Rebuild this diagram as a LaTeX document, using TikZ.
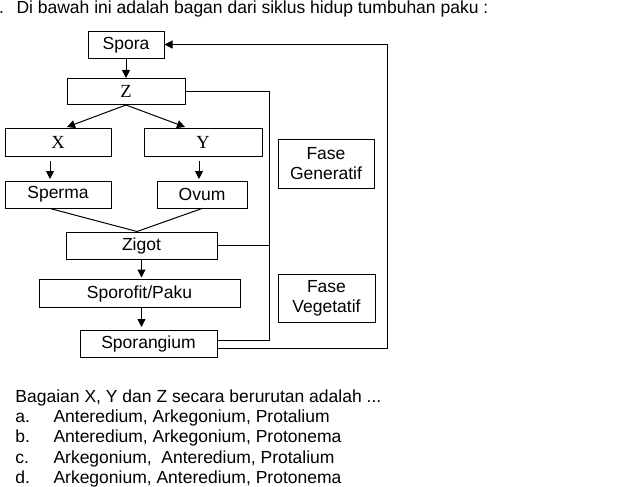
\documentclass[tikz,border=0pt]{standalone}
\usepackage{fontspec}
\setmainfont{Liberation Sans}
\newfontfamily\letterfont{Liberation Serif}
\usetikzlibrary{arrows.meta}

\begin{document}
\begin{tikzpicture}[x=1pt,y=-1pt,line width=1pt,
    box/.style={draw, inner sep=0pt, align=center, font=\fontsize{17.5}{20}\selectfont},
    lbox/.style={box, font=\fontsize{18.5}{20}\letterfont},
    txt/.style={anchor=base west, inner sep=0pt, font=\fontsize{17.5}{20}\selectfont},
    arr/.style={-{Triangle[length=8pt,width=8pt]}}]
    \useasboundingbox (0,0) rectangle (621,487);
    \node[txt] (dot) at (-1.5,14) {.};
    \node[txt] (title) at (16,14) {Di bawah ini adalah bagan dari siklus hidup tumbuhan paku :};
    % bagan
    \node[box, minimum width=76pt, minimum height=27pt] (spora) at (126,45.5) {Spora};
    \node[lbox, minimum width=118pt, minimum height=26pt] (z) at (126,91.5) {Z};
    \node[lbox, minimum width=106pt, minimum height=28pt] (xbox) at (58,142.5) {X};
    \node[lbox, minimum width=118pt, minimum height=28pt] (ybox) at (203,142.5) {Y};
    \node[box, minimum width=106pt, minimum height=27pt] (sperma) at (58,194.5) {Sperma};
    \node[box, minimum width=90pt, minimum height=27pt] (ovum) at (202,194.5) {Ovum};
    \node[box, minimum width=151pt, minimum height=27pt] (zigot) at (141.5,245.5) {Zigot};
    \node[box, minimum width=201pt, minimum height=28pt] (sporofit) at (139.5,293.5) {Sporofit/Paku};
    \node[box, minimum width=137pt, minimum height=27pt] (sporangium) at (148.5,343.5) {Sporangium};
    \node[box, minimum width=96pt, minimum height=49pt] (gen) at (326,163.5) {Fase\\Generatif};
    \node[box, minimum width=97pt, minimum height=48pt] (veg) at (326.5,298.5) {Fase\\Vegetatif};
    \draw[arr] (spora.south) -- (z.north);
    \draw[arr] (z.south) -- ([xshift=9pt,yshift=1pt]xbox.north);
    \draw[arr] (z.south) -- ([xshift=-18pt,yshift=1pt]ybox.north);
    \draw[arr] ([xshift=-8pt,yshift=-4pt]xbox.south) -- ++(0,18);
    \draw[arr] ([xshift=-4pt,yshift=-4pt]ybox.south) -- ++(0,18);
    \coordinate (meet) at ([xshift=-4.5pt]zigot.north);
    \draw ([xshift=-8pt]sperma.south) -- (meet) -- (ovum.south);
    \draw[arr] (zigot.south) -- ++(0,18);
    \draw[arr] ([xshift=2pt]sporofit.south) -- ++(0,19);
    % garis kanan
    \coordinate (gtop) at (269.5,91.5);
    \coordinate (back) at (387.5,44.5);
    \draw (z.east) -- (gtop) |- ([yshift=3pt]sporangium.east);
    \draw (zigot.east) -- (zigot.east -| gtop);
    \draw[arr] ([yshift=-5pt]sporangium.east) -| (back) -- ([yshift=1pt]spora.east);
    % soal
    \node[txt] (q) at (15,402) {Bagaian X, Y dan Z secara berurutan adalah ...};
    \foreach \l/\t [count=\i from 0] in {a./{Anteredium, Arkegonium, Protalium},
        b./{Anteredium, Arkegonium, Protonema},
        c./{Arkegonium,\ \ Anteredium, Protalium},
        d./{Arkegonium, Anteredium, Protonema}} {
      \node[txt] (opt\i) at (15,422.5+20.3*\i) {\l};
      \node[txt] (ans\i) at (53,422.5+20.3*\i) {\t};
    }
\end{tikzpicture}
\end{document}
